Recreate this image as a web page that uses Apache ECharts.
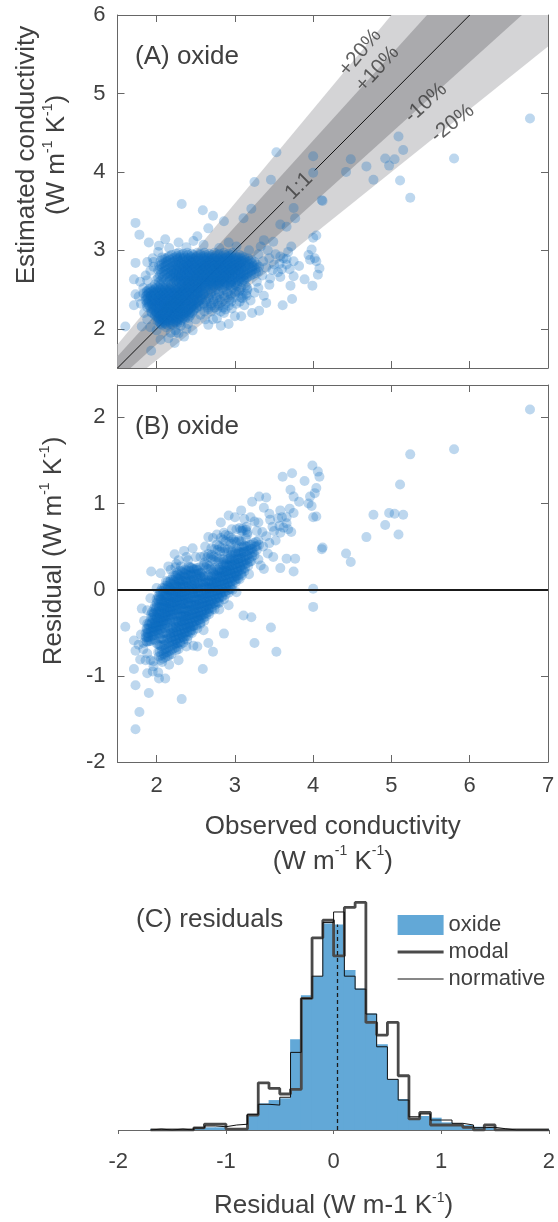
<!DOCTYPE html>
<html>
<head>
<meta charset="utf-8">
<script src="https://cdn.jsdelivr.net/npm/echarts@6/dist/echarts.min.js"></script>
<style>
  html, body { margin: 0; padding: 0; background: #ffffff; }
  #chart { width: 558px; height: 1222px; }
</style>
</head>
<body>
<div id="chart"></div>
<script>
// ---------- data ----------
// Tick positions
const obsTicks = [2, 3, 4, 5, 6, 7];
const estTicks = [2, 3, 4, 5, 6];
const residTicks = [-2, -1, 0, 1, 2];

// Agreement bands around the 1:1 line (fractional deviation) and their labels
const bandLevels = [0.2, 0.1];
const bandLabels = [
  { text: '+20%', obs: 4.60, est: 5.52, angle: 50.2 },
  { text: '+10%', obs: 4.82, est: 5.31, angle: 47.7 },
  { text: '-10%', obs: 5.44, est: 4.88, angle: 42.0 },
  { text: '-20%', obs: 5.78, est: 4.62, angle: 38.7 },
  { text: '1:1',  obs: 3.82, est: 3.82, angle: 45.0 }
];
// 1:1 line, interrupted where its label sits
const identitySegments = [[[1.5, 1.5], [3.62, 3.62]], [[4.02, 4.02], [6, 6]]];

// Oxide samples: dense part of the cloud, rows of [estimated, [observed ...]]
const upperRows = [
  [2.97, [2.28, 2.39, 2.52, 2.61, 2.74, 2.86, 2.97]],
  [2.955, [2.25, 2.34, 2.45, 2.56, 2.67, 2.80, 2.92]],
  [2.94, [2.19, 2.31, 2.40, 2.47, 2.56, 2.63, 2.71, 2.79, 2.88, 2.95, 3.06]],
  [2.925, [2.16, 2.26, 2.35, 2.43, 2.51, 2.60, 2.67, 2.75, 2.84, 2.92, 3.01, 3.09]],
  [2.91, [2.14, 2.23, 2.30, 2.37, 2.44, 2.50, 2.57, 2.64, 2.70, 2.77, 2.83, 2.90, 2.97, 3.04, 3.12]],
  [2.895, [2.11, 2.20, 2.27, 2.34, 2.41, 2.47, 2.54, 2.61, 2.67, 2.74, 2.80, 2.87, 2.94, 3.01, 3.08, 3.17]],
  [2.88, [2.08, 2.17, 2.26, 2.33, 2.39, 2.46, 2.53, 2.59, 2.66, 2.72, 2.79, 2.85, 2.92, 2.99, 3.05, 3.13, 3.21]],
  [2.865, [2.05, 2.14, 2.23, 2.30, 2.36, 2.43, 2.50, 2.56, 2.63, 2.69, 2.76, 2.82, 2.89, 2.96, 3.02, 3.10, 3.19]],
  [2.85, [2.12, 2.21, 2.28, 2.35, 2.42, 2.48, 2.55, 2.61, 2.68, 2.74, 2.81, 2.87, 2.94, 3.01, 3.08, 3.16, 3.25]],
  [2.835, [2.09, 2.18, 2.25, 2.32, 2.39, 2.45, 2.52, 2.58, 2.65, 2.71, 2.78, 2.84, 2.91, 2.98, 3.05, 3.13, 3.22]],
  [2.82, [2.06, 2.15, 2.24, 2.31, 2.38, 2.44, 2.51, 2.57, 2.64, 2.70, 2.77, 2.83, 2.90, 2.96, 3.03, 3.10, 3.18, 3.28]],
  [2.805, [2.03, 2.12, 2.21, 2.28, 2.35, 2.41, 2.48, 2.54, 2.61, 2.67, 2.74, 2.80, 2.87, 2.93, 3.00, 3.07, 3.15, 3.24]],
  [2.79, [2.10, 2.19, 2.27, 2.34, 2.40, 2.47, 2.53, 2.60, 2.66, 2.73, 2.79, 2.86, 2.92, 2.99, 3.06, 3.13, 3.22, 3.31]],
  [2.775, [2.07, 2.16, 2.24, 2.31, 2.37, 2.44, 2.50, 2.57, 2.63, 2.70, 2.76, 2.83, 2.89, 2.96, 3.03, 3.10, 3.19, 3.28]],
  [2.76, [2.04, 2.14, 2.22, 2.29, 2.36, 2.43, 2.49, 2.56, 2.62, 2.69, 2.75, 2.82, 2.88, 2.95, 3.01, 3.08, 3.16, 3.26]],
  [2.745, [2.02, 2.11, 2.19, 2.26, 2.33, 2.40, 2.46, 2.53, 2.59, 2.66, 2.72, 2.79, 2.85, 2.92, 2.98, 3.05, 3.13, 3.22]],
  [2.73, [2.09, 2.18, 2.25, 2.32, 2.39, 2.45, 2.52, 2.58, 2.65, 2.71, 2.78, 2.84, 2.91, 2.97, 3.04, 3.11, 3.20, 3.30]],
  [2.715, [2.06, 2.15, 2.22, 2.29, 2.36, 2.42, 2.49, 2.55, 2.62, 2.68, 2.75, 2.81, 2.88, 2.94, 3.01, 3.08, 3.17, 3.27]],
  [2.70, [2.13, 2.21, 2.28, 2.35, 2.41, 2.48, 2.54, 2.61, 2.67, 2.74, 2.80, 2.87, 2.93, 3.00, 3.07, 3.15, 3.24]],
  [2.685, [2.04, 2.10, 2.18, 2.25, 2.32, 2.38, 2.45, 2.51, 2.58, 2.64, 2.71, 2.77, 2.84, 2.90, 2.97, 3.04, 3.12, 3.21]],
  [2.67, [2.17, 2.24, 2.31, 2.37, 2.44, 2.50, 2.57, 2.63, 2.70, 2.76, 2.83, 2.89, 2.96, 3.03, 3.11, 3.19]],
  [2.655, [2.02, 2.08, 2.14, 2.21, 2.28, 2.34, 2.41, 2.47, 2.54, 2.60, 2.67, 2.73, 2.80, 2.86, 2.93, 3.00, 3.08, 3.16]],
  [2.64, [2.20, 2.27, 2.34, 2.40, 2.47, 2.53, 2.60, 2.66, 2.73, 2.79, 2.86, 2.92, 2.99, 3.07, 3.14]],
  [2.625, [2.00, 2.06, 2.12, 2.17, 2.24, 2.31, 2.37, 2.44, 2.50, 2.57, 2.63, 2.70, 2.76, 2.83, 2.89, 2.96, 3.04, 3.11]],
  [2.61, [2.25, 2.31, 2.38, 2.44, 2.51, 2.57, 2.64, 2.70, 2.77, 2.83, 2.90, 2.97, 3.05, 3.12]],
  [2.595, [2.03, 2.09, 2.15, 2.22, 2.28, 2.35, 2.41, 2.48, 2.54, 2.61, 2.67, 2.74, 2.80, 2.87, 2.94, 3.01, 3.09]],
  [2.58, [2.29, 2.36, 2.42, 2.49, 2.55, 2.62, 2.68, 2.75, 2.81, 2.88, 2.95, 3.03]],
  [2.565, [1.98, 2.05, 2.11, 2.18, 2.26, 2.32, 2.39, 2.45, 2.52, 2.58, 2.65, 2.71, 2.78, 2.85, 2.92, 3.00]],
  [2.55, [2.33, 2.40, 2.47, 2.53, 2.60, 2.66, 2.73, 2.80, 2.87, 2.95]]
];
const lowerRows = [
  [2.53, [1.95, 2.02, 2.08, 2.14, 2.20, 2.26, 2.32, 2.38, 2.44, 2.50, 2.56]],
  [2.515, [1.92, 1.99, 2.05, 2.11, 2.17, 2.23, 2.29, 2.35, 2.41, 2.47, 2.53]],
  [2.50, [1.90, 1.97, 2.04, 2.10, 2.16, 2.22, 2.28, 2.34, 2.40, 2.46, 2.52, 2.59]],
  [2.485, [1.88, 1.95, 2.01, 2.07, 2.13, 2.19, 2.25, 2.31, 2.37, 2.43, 2.50, 2.57]],
  [2.47, [1.87, 1.93, 2.00, 2.06, 2.12, 2.18, 2.24, 2.30, 2.36, 2.42, 2.48, 2.55]],
  [2.455, [1.90, 1.97, 2.03, 2.09, 2.15, 2.21, 2.27, 2.33, 2.39, 2.46, 2.53]],
  [2.44, [1.89, 1.96, 2.02, 2.08, 2.14, 2.20, 2.26, 2.32, 2.38, 2.45, 2.52, 2.60]],
  [2.425, [1.87, 1.93, 1.99, 2.05, 2.11, 2.17, 2.23, 2.29, 2.35, 2.42, 2.49, 2.57]],
  [2.41, [1.86, 1.92, 1.99, 2.05, 2.11, 2.17, 2.23, 2.29, 2.35, 2.41, 2.48, 2.56]],
  [2.395, [1.89, 1.95, 2.02, 2.08, 2.14, 2.20, 2.26, 2.32, 2.38, 2.45, 2.53]],
  [2.38, [1.88, 1.95, 2.01, 2.07, 2.13, 2.19, 2.25, 2.31, 2.37, 2.44, 2.51, 2.58]],
  [2.365, [1.86, 1.92, 1.98, 2.04, 2.10, 2.16, 2.22, 2.28, 2.34, 2.41, 2.48, 2.56]],
  [2.35, [1.90, 1.97, 2.03, 2.09, 2.15, 2.21, 2.27, 2.33, 2.40, 2.47, 2.54]],
  [2.335, [1.88, 1.94, 2.00, 2.06, 2.12, 2.18, 2.24, 2.30, 2.37, 2.44, 2.52]],
  [2.32, [1.87, 1.93, 2.00, 2.06, 2.12, 2.18, 2.24, 2.30, 2.36, 2.43, 2.50]],
  [2.305, [1.90, 1.96, 2.03, 2.09, 2.15, 2.21, 2.27, 2.33, 2.39, 2.46, 2.53]],
  [2.29, [1.91, 1.98, 2.04, 2.10, 2.16, 2.22, 2.28, 2.34, 2.40, 2.47, 2.55]],
  [2.275, [1.88, 1.95, 2.01, 2.07, 2.13, 2.19, 2.25, 2.31, 2.37, 2.44, 2.51]],
  [2.26, [1.93, 2.00, 2.06, 2.12, 2.18, 2.24, 2.30, 2.37, 2.44, 2.51]],
  [2.245, [1.96, 2.03, 2.09, 2.15, 2.21, 2.27, 2.34, 2.41, 2.48]],
  [2.23, [1.96, 2.03, 2.09, 2.15, 2.21, 2.27, 2.33, 2.40, 2.47]],
  [2.215, [1.93, 1.99, 2.06, 2.12, 2.18, 2.24, 2.30, 2.36, 2.43]],
  [2.20, [1.94, 2.00, 2.07, 2.13, 2.19, 2.25, 2.31, 2.38, 2.45]],
  [2.185, [1.97, 2.03, 2.10, 2.16, 2.22, 2.28, 2.34, 2.41]],
  [2.17, [1.98, 2.05, 2.11, 2.17, 2.23, 2.29, 2.36, 2.43]],
  [2.155, [2.00, 2.05, 2.11, 2.17, 2.24, 2.31, 2.38]],
  [2.14, [2.02, 2.08, 2.14, 2.20, 2.27, 2.34, 2.41]],
  [2.125, [2.03, 2.09, 2.15, 2.22, 2.29, 2.36]],
  [2.11, [2.00, 2.06, 2.12, 2.18, 2.25, 2.32]],
  [2.095, [2.02, 2.08, 2.14, 2.21, 2.27]],
  [2.08, [2.04, 2.10, 2.17, 2.24, 2.30]],
  [2.065, [2.05, 2.11, 2.18, 2.26]],
  [2.05, [2.07, 2.14, 2.21]]
];
const transitionRows = [
  [2.545, [2.62, 2.70, 2.78, 2.90, 3.02, 3.14]],
  [2.52, [2.63, 2.72, 2.84, 2.97, 3.08]],
  [2.495, [2.66, 2.75, 2.85, 2.95, 3.06, 3.16]],
  [2.47, [2.62, 2.70, 2.79, 2.90, 3.02]],
  [2.445, [2.60, 2.69, 2.80, 2.91, 3.00, 3.14]],
  [2.42, [2.66, 2.75, 2.86, 2.95, 3.10]],
  [2.395, [2.67, 2.77, 2.87, 2.98, 3.08]],
  [2.37, [2.63, 2.72, 2.81, 2.93]],
  [2.345, [2.64, 2.73, 2.83, 2.95, 3.06]],
  [2.32, [2.60, 2.69, 2.78, 2.88, 3.02]],
  [2.295, [2.61, 2.70, 2.80, 2.92]],
  [2.27, [2.65, 2.74, 2.85]],
  [2.245, [2.66, 2.77, 2.88]],
  [2.22, [2.61, 2.70, 2.82]]
];
// Oxide samples: individual points around the cloud, [observed, estimated]
const scatteredPoints = [
  [6.77, 4.68], [5.80, 4.17], [5.24, 3.67], [5.11, 3.89], [5.09, 4.45], [5.15, 4.28],
  [4.92, 4.17], [4.97, 4.08], [5.04, 4.16], [4.77, 3.90], [4.68, 4.07], [4.48, 4.16],
  [4.42, 4.00], [4.00, 4.20], [4.00, 3.99], [4.12, 3.63], [3.75, 3.54], [3.77, 3.41],
  [3.66, 3.30], [4.00, 3.16], [4.04, 3.19], [3.72, 3.05], [3.98, 3.01], [3.94, 2.94],
  [4.04, 2.86], [4.08, 2.77], [4.06, 2.69], [3.75, 2.86], [3.75, 2.67], [3.89, 2.63],
  [3.99, 2.55], [3.71, 2.55], [3.73, 2.38], [3.61, 2.30], [4.02, 2.90], [3.96, 2.88],
  [3.82, 2.80], [3.70, 2.76], [3.66, 2.82], [3.60, 2.76], [3.66, 2.89], [3.58, 2.92],
  [3.53, 4.25], [3.25, 3.87], [3.46, 3.90], [2.32, 3.59], [2.59, 3.51], [2.72, 3.44],
  [2.86, 3.37], [3.21, 3.53], [3.11, 3.41], [2.66, 3.28], [2.52, 3.18], [1.73, 3.35],
  [1.78, 3.20], [1.90, 3.10], [2.11, 3.14], [1.73, 2.84], [1.71, 2.63], [1.83, 2.45],
  [1.71, 2.30], [1.60, 2.03], [1.81, 2.03], [1.93, 1.72], [2.23, 1.82], [2.35, 1.90],
  [2.46, 1.98], [2.66, 2.05], [2.77, 2.13], [3.08, 2.16], [3.31, 2.23], [3.37, 2.42],
  [3.10, 2.39], [3.44, 2.56], [4.11, 3.64], [3.58, 3.33], [3.37, 3.13], [3.49, 3.11],
  [2.02, 2.98], [2.16, 3.03], [2.38, 3.04], [2.60, 3.07], [2.80, 3.03], [3.02, 3.05],
  [3.18, 3.00], [2.28, 3.10], [2.47, 3.12], [2.92, 3.10], [1.95, 2.90], [1.88, 2.85],
  [1.96, 2.79], [2.03, 3.06], [1.80, 2.32], [1.77, 2.41], [1.83, 2.52], [1.79, 2.60],
  [1.86, 2.68], [1.92, 2.74], [1.84, 2.20], [1.88, 2.12], [1.73, 2.44], [1.88, 2.62],
  [1.96, 2.85], [2.07, 2.91], [1.92, 2.02], [2.00, 1.98], [2.12, 2.02], [2.24, 1.98],
  [2.31, 2.04], [2.40, 2.06], [2.50, 2.12], [2.56, 2.18], [2.62, 2.12], [2.18, 1.95],
  [2.28, 1.94], [3.30, 2.95], [3.36, 2.86], [3.40, 2.78], [3.35, 2.68], [3.28, 2.60],
  [3.44, 2.90], [3.50, 2.82], [3.55, 2.72], [3.52, 2.95], [3.57, 2.83], [3.62, 2.90],
  [3.48, 2.75], [3.45, 2.64], [3.58, 2.66], [3.68, 2.98], [3.42, 3.00], [3.33, 3.05],
  [2.72, 2.12], [2.86, 2.20], [2.96, 2.26], [3.12, 2.30], [3.20, 2.36], [3.25, 2.46],
  [3.30, 2.52], [2.92, 2.06], [3.05, 2.47], [3.16, 2.52], [3.22, 2.20], [3.00, 2.16],
  [2.82, 2.04], [3.40, 2.33], [3.15, 2.42], [2.25, 1.95], [2.38, 2.00], [2.15, 1.88],
  [2.05, 1.86]
];

// Residual histograms: bin left edges (width 0.1) and share of samples per bin (%)
const binWidth = 0.1;
const binLeft = [-1.7, -1.6, -1.5, -1.4, -1.3, -1.2, -1.1, -1.0, -0.9, -0.8, -0.7, -0.6, -0.5,
  -0.4, -0.3, -0.2, -0.1, 0.0, 0.1, 0.2, 0.3, 0.4, 0.5, 0.6, 0.7, 0.8, 0.9, 1.0, 1.1, 1.2,
  1.3, 1.4, 1.5, 1.6, 1.7, 1.8, 1.9];
const oxideShare = [0.06, 0, 0.06, 0, 0.15, 0.17, 0.17, 0.13, 0.13, 1.03, 1.71, 1.92, 2.03,
  5.83, 8.65, 9.87, 13.25, 13.19, 10.26, 9.08, 7.48, 5.51, 3.25, 1.99, 0.64, 0.90, 0.79, 0.49,
  0.43, 0.32, 0.21, 0.17, 0.04, 0, 0.04, 0.04, 0.04];
const modalShare = [0, 0, 0, 0, 0.13, 0.38, 0.38, 0.06, 0.06, 0.96, 3.03, 2.67, 2.31,
  2.61, 8.44, 12.33, 13.46, 11.17, 14.28, 14.60, 6.90, 6.09, 6.90, 3.48, 0.71, 1.13, 0.32, 0.32,
  0.32, 0.17, 0, 0.32, 0, 0, 0, 0, 0];
const normativeShare = [0.06, 0, 0.06, 0, 0.13, 0.26, 0.21, 0.32, 0.37, 1.01, 1.65, 1.60, 2.10,
  4.98, 8.44, 9.87, 13.31, 13.99, 9.87, 9.04, 7.44, 5.34, 3.25, 1.92, 0.85, 1.03, 0.64, 0.64,
  0.43, 0.32, 0.15, 0.17, 0.08, 0, 0, 0, 0];
const meanResidual = 0.035;

// ---------- styling ----------
const FONT = '"Liberation Sans", Arial, Helvetica, sans-serif';
const TEXT = '#404040';
const AXIS = '#666666';
const POINT = '#0b6abf';
const OXIDE_BLUE = '#62a8d7';
const MODAL_GRAY = '#4a4a4a';
const NORMATIVE_BLACK = '#111111';
const BAND_LIGHT = '#d4d4d6';
const BAND_DARK = '#aaaaad';
const SUP = { fontSize: 14, fontFamily: FONT, color: TEXT, verticalAlign: 'top', lineHeight: 18 };

// ---------- derived series ----------
function rowsToPairs(rows) {
  const out = [];
  rows.forEach(([est, obsList]) => obsList.forEach(o => out.push([o, est])));
  return out;
}
const oxidePairs = [].concat(
  rowsToPairs(upperRows), rowsToPairs(lowerRows), rowsToPairs(transitionRows), scatteredPoints);
const residualPairs = oxidePairs.map(([o, e]) => [o, +(o - e).toFixed(3)]);

function stairs(shares) {
  const pts = [[binLeft[0], 0]];
  shares.forEach((h, i) => pts.push([binLeft[i], h]));
  const end = +(binLeft[binLeft.length - 1] + binWidth).toFixed(2);
  pts.push([end, shares[shares.length - 1]]);
  pts.push([end, 0]);
  return pts;
}
const meanBin = binLeft.findIndex(l => meanResidual >= l && meanResidual < l + binWidth);
const meanLine = [[meanResidual, 0], [meanResidual, oxideShare[meanBin]]];

// polygon clipping to the plotting rectangle (Sutherland–Hodgman)
function clipToRect(poly, r) {
  const x0 = r.x, x1 = r.x + r.width, y0 = r.y, y1 = r.y + r.height;
  const atX = (a, b, x) => { const t = (x - a[0]) / (b[0] - a[0]); return [x, a[1] + t * (b[1] - a[1])]; };
  const atY = (a, b, y) => { const t = (y - a[1]) / (b[1] - a[1]); return [a[0] + t * (b[0] - a[0]), y]; };
  const planes = [
    [p => p[0] >= x0, (a, b) => atX(a, b, x0)],
    [p => p[0] <= x1, (a, b) => atX(a, b, x1)],
    [p => p[1] >= y0, (a, b) => atY(a, b, y0)],
    [p => p[1] <= y1, (a, b) => atY(a, b, y1)]
  ];
  let out = poly;
  planes.forEach(([inside, cut]) => {
    const src = out; out = [];
    src.forEach((cur, i) => {
      const prev = src[(i + src.length - 1) % src.length];
      if (inside(cur)) { if (!inside(prev)) out.push(cut(prev, cur)); out.push(cur); }
      else if (inside(prev)) out.push(cut(prev, cur));
    });
  });
  return out;
}

// ---------- axes ----------
function frameAxis(extra) {
  return Object.assign({
    type: 'value',
    axisLine: { show: true, onZero: false, lineStyle: { color: AXIS, width: 1 } },
    axisTick: { show: true, inside: true, length: 7, lineStyle: { color: AXIS, width: 1 } },
    axisLabel: { show: false },
    splitLine: { show: false }
  }, extra);
}
function ticks(values) {
  return { show: true, inside: true, length: 7, customValues: values, lineStyle: { color: AXIS, width: 1 } };
}
function labels(values, margin) {
  return { show: true, customValues: values, margin: margin, fontSize: 22, fontFamily: FONT, color: TEXT };
}
const NAME_STYLE = { fontSize: 26, color: TEXT, fontFamily: FONT, rich: { s: SUP } };

const chart = echarts.init(document.getElementById('chart'), null, { renderer: 'canvas' });

const option = {
  animation: false,
  backgroundColor: '#ffffff',
  textStyle: { fontFamily: FONT },
  title: [
    { text: '(A) oxide', left: 135, top: 44, padding: 0,
      textStyle: { fontSize: 26, fontWeight: 'normal', color: TEXT, fontFamily: FONT } },
    { text: '(B) oxide', left: 135, top: 414, padding: 0,
      textStyle: { fontSize: 26, fontWeight: 'normal', color: TEXT, fontFamily: FONT } },
    { text: '(C) residuals', left: 136, top: 907, padding: 0,
      textStyle: { fontSize: 26, fontWeight: 'normal', color: TEXT, fontFamily: FONT } }
  ],
  legend: {
    orient: 'vertical', left: 391, top: 909,
    itemWidth: 46, itemHeight: 20, itemGap: 5,
    selectedMode: false,
    textStyle: { fontSize: 22, color: TEXT, fontFamily: FONT },
    data: [
      { name: 'oxide', icon: 'rect' },
      { name: 'modal', itemStyle: { opacity: 0 }, lineStyle: { color: MODAL_GRAY, width: 3.2 } },
      { name: 'normative', itemStyle: { opacity: 0 }, lineStyle: { color: NORMATIVE_BLACK, width: 1.2 } }
    ]
  },
  grid: [
    { left: 117.5, top: 15, width: 430.5, height: 353 },
    { left: 117.5, top: 385, width: 430.5, height: 377 },
    { left: 118.3, top: 890, width: 430.8, height: 240.5 }
  ],
  xAxis: [
    frameAxis({ gridIndex: 0, min: 1.5, max: 7, position: 'bottom', axisTick: ticks(obsTicks) }),
    frameAxis({ gridIndex: 0, min: 1.5, max: 7, position: 'top', axisTick: ticks(obsTicks) }),
    frameAxis({ gridIndex: 1, min: 1.5, max: 7, position: 'bottom', axisTick: ticks(obsTicks),
      axisLabel: labels(obsTicks, 13),
      name: 'Observed conductivity\n(W m{s|-1} K{s|-1})', nameLocation: 'middle', nameGap: 47,
      nameTextStyle: Object.assign({ lineHeight: 35 }, NAME_STYLE) }),
    frameAxis({ gridIndex: 1, min: 1.5, max: 7, position: 'top', axisTick: ticks(obsTicks) }),
    {
      type: 'value', gridIndex: 2, min: -2, max: 2, interval: 1, position: 'bottom',
      axisLine: { show: true, onZero: false, lineStyle: { color: AXIS, width: 1 } },
      axisTick: { show: true, inside: false, length: 4, lineStyle: { color: AXIS } },
      axisLabel: { show: true, margin: 21, fontSize: 22, fontFamily: FONT, color: TEXT },
      splitLine: { show: false },
      name: 'Residual (W m-1 K{s|-1})', nameLocation: 'middle', nameGap: 61,
      nameTextStyle: Object.assign({ lineHeight: 30 }, NAME_STYLE)
    }
  ],
  yAxis: [
    frameAxis({ gridIndex: 0, min: 1.5, max: 6, position: 'left', axisTick: ticks(estTicks),
      axisLabel: labels(estTicks, 12),
      name: 'Estimated conductivity\n(W m{s|-1} K{s|-1})', nameLocation: 'middle', nameGap: 46,
      nameRotate: 90,
      nameTextStyle: Object.assign({ lineHeight: 30, padding: [0, 0, 0, 73] }, NAME_STYLE) }),
    frameAxis({ gridIndex: 0, min: 1.5, max: 6, position: 'right', axisTick: ticks(estTicks) }),
    frameAxis({ gridIndex: 1, min: -2, max: 2.375, position: 'left', axisTick: ticks(residTicks),
      axisLabel: labels(residTicks, 12),
      name: 'Residual (W m{s|-1} K{s|-1})', nameLocation: 'middle', nameGap: 49, nameRotate: 90,
      nameTextStyle: Object.assign({ lineHeight: 30, padding: [0, 0, 0, 45] }, NAME_STYLE) }),
    frameAxis({ gridIndex: 1, min: -2, max: 2.375, position: 'right', axisTick: ticks(residTicks) }),
    { type: 'value', gridIndex: 2, min: 0, max: 15.4, show: false }
  ],
  series: [
    // (A) agreement bands
    {
      type: 'custom', name: 'bands', xAxisIndex: 0, yAxisIndex: 0, silent: true, z: 1,
      data: bandLevels.map(f => [f]),
      renderItem: (params, api) => {
        const f = api.value(0);
        const poly = [[0.5, (1 + f) * 0.5], [9, (1 + f) * 9], [9, (1 - f) * 9], [0.5, (1 - f) * 0.5]]
          .map(p => api.coord(p));
        return {
          type: 'polygon',
          shape: { points: clipToRect(poly, params.coordSys) },
          style: { fill: f > 0.15 ? BAND_LIGHT : BAND_DARK, stroke: null }
        };
      }
    },
    // (A) 1:1 line
    {
      type: 'lines', name: 'identity', coordinateSystem: 'cartesian2d', xAxisIndex: 0, yAxisIndex: 0,
      silent: true, z: 2,
      lineStyle: { color: '#111111', width: 1, opacity: 1 },
      data: identitySegments.map(s => ({ coords: s }))
    },
    // (A) band annotations
    {
      type: 'scatter', name: 'band labels', xAxisIndex: 0, yAxisIndex: 0, silent: true, z: 3,
      symbolSize: 0,
      data: bandLabels.map(b => ({
        value: [b.obs, b.est],
        label: { show: true, position: 'inside', formatter: b.text, rotate: b.angle,
          fontSize: 21, color: '#3a3a3a', fontFamily: FONT }
      }))
    },
    // (A) estimated vs observed
    {
      type: 'scatter', name: 'oxide samples', xAxisIndex: 0, yAxisIndex: 0, z: 4,
      symbol: 'circle', symbolSize: 10,
      itemStyle: { color: POINT, opacity: 0.27 },
      data: oxidePairs
    },
    // (B) residuals vs observed
    {
      type: 'scatter', name: 'oxide residuals', xAxisIndex: 2, yAxisIndex: 2, z: 4,
      symbol: 'circle', symbolSize: 10,
      itemStyle: { color: POINT, opacity: 0.27 },
      data: residualPairs
    },
    // (B) zero line
    {
      type: 'lines', name: 'zero', coordinateSystem: 'cartesian2d', xAxisIndex: 2, yAxisIndex: 2,
      silent: true, z: 5,
      lineStyle: { color: '#1a1a1a', width: 1.8, opacity: 1 },
      data: [{ coords: [[1.5, 0], [7, 0]] }]
    },
    // (C) oxide histogram
    {
      type: 'custom', name: 'oxide', xAxisIndex: 4, yAxisIndex: 4, z: 2,
      itemStyle: { color: OXIDE_BLUE },
      data: binLeft.map((l, i) => [l, oxideShare[i]]),
      renderItem: (params, api) => {
        const l = api.value(0), h = api.value(1);
        if (!h) return null;
        const p0 = api.coord([l, 0]);
        const p1 = api.coord([l + binWidth, h]);
        return {
          type: 'rect',
          shape: { x: p0[0] - 0.4, y: p1[1], width: p1[0] - p0[0] + 0.8, height: p0[1] - p1[1] },
          style: { fill: OXIDE_BLUE }
        };
      }
    },
    {
      type: 'line', name: 'modal', xAxisIndex: 4, yAxisIndex: 4, z: 3,
      step: 'end', symbol: 'none', silent: true,
      lineStyle: { color: MODAL_GRAY, width: 2.8 },
      itemStyle: { color: MODAL_GRAY },
      data: stairs(modalShare)
    },
    {
      type: 'line', name: 'normative', xAxisIndex: 4, yAxisIndex: 4, z: 4,
      step: 'end', symbol: 'none', silent: true,
      lineStyle: { color: NORMATIVE_BLACK, width: 1 },
      itemStyle: { color: NORMATIVE_BLACK },
      data: stairs(normativeShare)
    },
    {
      type: 'lines', name: 'mean residual', coordinateSystem: 'cartesian2d', xAxisIndex: 4, yAxisIndex: 4,
      silent: true, z: 5,
      lineStyle: { color: '#1a1a1a', width: 1.3, type: [4, 3], opacity: 1 },
      data: [{ coords: meanLine }]
    }
  ]
};

chart.setOption(option);
</script>
</body>
</html>
